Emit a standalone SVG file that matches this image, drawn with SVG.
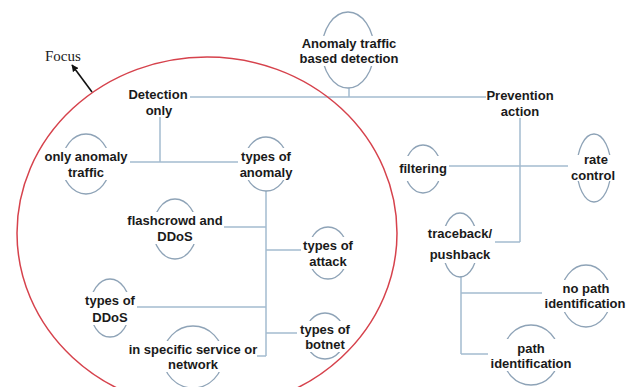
<svg xmlns="http://www.w3.org/2000/svg" width="639" height="387" viewBox="0 0 639 387">
<style>
.conn{stroke:#a3bbcf;stroke-width:1.5;fill:none}
.bub{stroke:#8ea3b7;stroke-width:1.3;fill:none}
.bg{fill:#ffffff}
.lbl{font-family:"Liberation Sans",Arial,sans-serif;font-weight:bold;font-size:13px;fill:#1a1a1a;text-anchor:middle}
.focus{font-family:"Liberation Serif","Times New Roman",serif;font-size:15px;fill:#222}
</style>
<defs>
<marker id="ah" viewBox="0 0 10 10" refX="9" refY="5" markerWidth="7" markerHeight="7" orient="auto-start-reverse" markerUnits="userSpaceOnUse">
<path d="M0,0 L10,5 L0,10 z" fill="#111"/>
</marker>
</defs>
<rect width="639" height="387" fill="#ffffff"/>
<g id="connectors">
<path class="conn" d="M190 97 H486"/>
<path class="conn" d="M349 88 V97"/>
<path class="conn" d="M160 117 V162"/>
<path class="conn" d="M128 162 H240"/>
<path class="conn" d="M266 191 V356"/>
<path class="conn" d="M196 227 H266"/>
<path class="conn" d="M266 250 H303"/>
<path class="conn" d="M135 307 H266"/>
<path class="conn" d="M266 333 H300"/>
<path class="conn" d="M222 356 H266"/>
<path class="conn" d="M520 118 V242"/>
<path class="conn" d="M477 242 H520"/>
<path class="conn" d="M447 166 H577"/>
<path class="conn" d="M461 276 V354"/>
<path class="conn" d="M461 293 H562"/>
<path class="conn" d="M461 354 H510"/>
</g>
<g id="anomaly-detection">
<ellipse class="bub" cx="348" cy="50" rx="26" ry="38"/>
<rect class="bg" x="298" y="36" width="102" height="30"/>
<text class="lbl" x="349" y="48">Anomaly traffic</text>
<text class="lbl" x="349" y="63">based detection</text>
</g>
<g id="detection-only">
<text class="lbl" x="158" y="99">Detection</text>
<text class="lbl" x="159" y="115">only</text>
</g>
<g id="only-anomaly-traffic">
<ellipse class="bub" cx="86" cy="164" rx="24" ry="30"/>
<rect class="bg" x="42" y="148" width="88" height="32"/>
<text class="lbl" x="86" y="161">only anomaly</text>
<text class="lbl" x="86" y="177">traffic</text>
</g>
<g id="types-of-anomaly">
<ellipse class="bub" cx="266" cy="164" rx="22" ry="27"/>
<rect class="bg" x="238" y="148" width="56" height="32"/>
<text class="lbl" x="266" y="161">types of</text>
<text class="lbl" x="266" y="177">anomaly</text>
</g>
<g id="flashcrowd">
<ellipse class="bub" cx="175" cy="229" rx="22" ry="30"/>
<rect class="bg" x="126" y="212" width="98" height="32"/>
<text class="lbl" x="175" y="225">flashcrowd and</text>
<text class="lbl" x="175" y="241">DDoS</text>
</g>
<g id="types-of-attack">
<ellipse class="bub" cx="328" cy="253" rx="20" ry="26"/>
<rect class="bg" x="301" y="237" width="54" height="32"/>
<text class="lbl" x="328" y="250">types of</text>
<text class="lbl" x="328" y="266">attack</text>
</g>
<g id="types-of-ddos">
<ellipse class="bub" cx="110" cy="308" rx="20" ry="29"/>
<rect class="bg" x="83" y="292" width="54" height="33"/>
<text class="lbl" x="110" y="305">types of</text>
<text class="lbl" x="110" y="322">DDoS</text>
</g>
<g id="types-of-botnet">
<ellipse class="bub" cx="325" cy="336" rx="20" ry="23"/>
<rect class="bg" x="297" y="321" width="56" height="31"/>
<text class="lbl" x="325" y="334">types of</text>
<text class="lbl" x="325" y="349">botnet</text>
</g>
<g id="specific-service">
<ellipse class="bub" cx="193" cy="357" rx="30" ry="31"/>
<rect class="bg" x="130" y="341" width="127" height="31"/>
<text class="lbl" x="193" y="354">in specific service or</text>
<text class="lbl" x="193" y="369">network</text>
</g>
<g id="prevention-action">
<text class="lbl" x="520" y="100">Prevention</text>
<text class="lbl" x="520" y="116">action</text>
</g>
<g id="filtering">
<ellipse class="bub" cx="423" cy="169" rx="18" ry="24"/>
<rect class="bg" x="397" y="156" width="52" height="25"/>
<text class="lbl" x="423" y="173">filtering</text>
</g>
<g id="rate-control">
<ellipse class="bub" cx="594" cy="168" rx="17" ry="34"/>
<rect class="bg" x="568" y="155" width="50" height="26"/>
<text class="lbl" x="596" y="164">rate</text>
<text class="lbl" x="593" y="180">control</text>
</g>
<g id="traceback-pushback">
<ellipse class="bub" cx="460" cy="245" rx="18" ry="32"/>
<rect class="bg" x="425" y="226" width="70" height="37"/>
<text class="lbl" x="460" y="238">traceback/</text>
<text class="lbl" x="460" y="259">pushback</text>
</g>
<g id="no-path-identification">
<ellipse class="bub" cx="586" cy="296" rx="25" ry="31"/>
<rect class="bg" x="542" y="280" width="86" height="32"/>
<text class="lbl" x="586" y="293">no path</text>
<text class="lbl" x="585" y="308">identification</text>
</g>
<g id="path-identification">
<ellipse class="bub" cx="531" cy="355" rx="28" ry="30"/>
<rect class="bg" x="488" y="339" width="86" height="32"/>
<text class="lbl" x="531" y="353">path</text>
<text class="lbl" x="531" y="368">identification</text>
</g>
<g id="focus">
<ellipse cx="207" cy="233" rx="190" ry="176" fill="none" stroke="#d6424c" stroke-width="1.5"/>
<line x1="92" y1="92" x2="72" y2="65" stroke="#111" stroke-width="1.6" marker-end="url(#ah)"/>
<text class="focus" x="45" y="61">Focus</text>
</g>
</svg>
